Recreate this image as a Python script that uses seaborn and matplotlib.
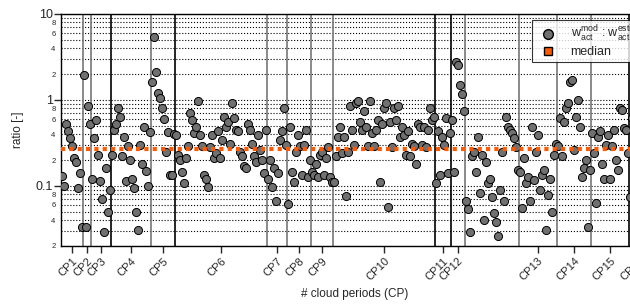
import numpy as np
import pandas as pd
import matplotlib
matplotlib.use('Agg')
import matplotlib.pyplot as plt
import seaborn as sns
from matplotlib.lines import Line2D
from matplotlib.ticker import FixedLocator, FixedFormatter

# ratio w_act^mod : w_act^estim for each cloud period
cp_names = ['CP1', 'CP2', 'CP3', 'CP4', 'CP5', 'CP6', 'CP7', 'CP8', 'CP9', 'CP10',
            'CP11', 'CP12', '', 'CP13', 'CP14', 'CP15', 'CP16']

cp1 = [0.13, 0.10, 0.52, 0.43, 0.36, 0.29, 0.21, 0.19, 0.095, 0.14, 0.033]
cp2 = [1.97, 0.033, 0.85, 0.52]
cp3 = [0.12, 0.36, 0.58, 0.23, 0.115, 0.07, 0.029, 0.16, 0.05, 0.09]
cp4 = [0.23, 0.45, 0.53, 0.8, 0.64, 0.22, 0.37, 0.115, 0.29, 0.2,
       0.12, 0.094, 0.05, 0.031, 0.3, 0.18, 0.49, 0.15, 0.1, 0.42]
cp5 = [1.63, 5.35, 2.13, 1.2, 1.05, 0.8, 0.6, 0.25, 0.42, 0.135, 0.135, 0.4]
cp6 = [0.39, 0.23, 0.2, 0.147, 0.107, 0.21, 0.29, 0.7, 0.585, 0.41,
       0.49, 0.98, 0.39, 0.29, 0.135, 0.12, 0.098, 0.28, 0.39, 0.21,
       0.24, 0.43, 0.21, 0.34, 0.63, 0.49, 0.56, 0.31, 0.91, 0.61,
       0.45, 0.43, 0.25, 0.22, 0.17, 0.16, 0.53, 0.45, 0.31, 0.22,
       0.19, 0.39, 0.26, 0.2, 0.14, 0.45]
cp7 = [0.12, 0.2, 0.098, 0.16, 0.066, 0.14, 0.34, 0.43, 0.8, 0.3]
cp8 = [0.062, 0.49, 0.147, 0.11, 0.25, 0.39, 0.29, 0.135, 0.3, 0.45, 0.128, 0.2]
cp9 = [0.147, 0.135, 0.18, 0.128, 0.23, 0.25, 0.135, 0.21, 0.28, 0.128, 0.112]
cp10 = [0.112, 0.22, 0.375, 0.49, 0.24, 0.375, 0.077, 0.25, 0.84, 0.45,
        0.3, 0.91, 0.96, 0.56, 0.45, 0.75, 0.49, 0.29, 0.98, 0.41,
        0.29, 0.45, 0.585, 0.11, 0.53, 0.8, 0.91, 0.057, 0.56, 0.28,
        0.8, 0.585, 0.85, 0.375, 0.49, 0.39, 0.23,
        0.43, 0.22, 0.31, 0.29, 0.18, 0.53, 0.49, 0.3, 0.49, 0.28,
        0.45, 0.8, 0.585, 0.64]
cp11 = [0.107, 0.43, 0.135, 0.375, 0.3, 0.61, 0.14, 0.41]
cp12 = [0.585, 0.147, 2.8, 2.55, 1.5, 1.17, 0.75]
no_cp = [0.066, 0.054, 0.029, 0.22, 0.25, 0.147, 0.375, 0.082, 0.23, 0.04,
         0.19, 0.107, 0.12, 0.075, 0.048, 0.038, 0.026, 0.09, 0.25, 0.066,
         0.64, 0.49, 0.45, 0.41, 0.36, 0.28, 0.153]
cp13 = [0.147, 0.055, 0.21, 0.107, 0.128, 0.066, 0.49, 0.117, 0.25, 0.39,
        0.09, 0.135, 0.153, 0.031, 0.078, 0.12, 0.05, 0.23, 0.31]
cp14 = [0.29, 0.61, 0.22, 0.56, 0.8, 0.91, 1.63, 1.71, 0.26, 0.64,
        1.0, 0.49, 0.128, 0.16, 0.2, 0.033, 0.153]
cp15 = [0.41, 0.24, 0.063, 0.375, 0.43, 0.18, 0.12, 0.3, 0.39, 0.12,
        0.29, 0.45, 0.2, 0.153, 0.8, 0.76, 0.47, 0.45, 0.24]
cp16 = [0.074, 0.61, 0.29, 0.35, 0.25, 0.4, 0.3, 0.2, 0.33, 0.27]

median_ratio = 0.27

# colour of the line closing each period
sep_colors = ['#777777', '#777777', 'black', '#777777', 'black', '#777777',
              '#777777', '#777777', '#777777', 'black', 'black', '#777777',
              '#777777', '#777777', '#777777', 'black']

periods = [cp1, cp2, cp3, cp4, cp5, cp6, cp7, cp8, cp9, cp10,
           cp11, cp12, no_cp, cp13, cp14, cp15, cp16]

sizes = np.array([len(p) for p in periods])
df = pd.DataFrame({'ratio': np.concatenate(periods),
                   'period': np.repeat(np.arange(len(periods)), sizes)})
df['sample'] = np.arange(len(df))
edges = np.cumsum(sizes) - 0.5
centers = edges - sizes / 2.0

sns.set_style('white')
plt.rcParams['font.family'] = ['Liberation Sans', 'DejaVu Sans']
plt.rcParams['mathtext.fontset'] = 'custom'
plt.rcParams['mathtext.rm'] = 'Liberation Sans'

fig = plt.figure(figsize=(6.3, 3.04), dpi=100)
# 2 px per sample, axes runs past the right edge like the original
ax = fig.add_axes([61 / 630, 58 / 304, len(df) * 2 / 630, 232 / 304])

sns.scatterplot(data=df, x='sample', y='ratio', color='#707070', edgecolor='black',
                linewidth=0.7, s=34, ax=ax, zorder=3, legend=False)

ax.axhline(median_ratio, color='#ff5a00', lw=3, ls=(0, (1, 1)),
           dash_capstyle='butt', zorder=4)

for e, c in zip(edges[:-1], sep_colors):
    ax.axvline(e, color=c, lw=1.2, zorder=2)

ax.set_yscale('log')
ax.set_ylim(0.02, 10)
ax.set_xlim(-0.5, len(df) - 0.5)

# y ticks: decades labelled big, 2/4/6/8 labelled small
ax.yaxis.set_major_locator(FixedLocator([0.1, 1, 10]))
ax.yaxis.set_major_formatter(FixedFormatter(['0.1', '1', '10']))
minor = [m * d for d in [0.01, 0.1, 1] for m in range(2, 10)]
minor_lab = [str(m) if m % 2 == 0 else '' for d in [0.01, 0.1, 1] for m in range(2, 10)]
ax.yaxis.set_minor_locator(FixedLocator(minor))
ax.yaxis.set_minor_formatter(FixedFormatter(minor_lab))
ax.tick_params(axis='y', which='major', labelsize=9, length=5, width=1, direction='out', pad=1)
ax.tick_params(axis='y', which='minor', labelsize=5.5, length=3, width=0.8, direction='out', pad=1)
ax.yaxis.set_tick_params(left=True)

ax.grid(which='both', axis='y', color='black', linestyle=':', linewidth=0.8, zorder=1)
ax.grid(which='both', axis='x', visible=False)
ax.set_axisbelow(True)

labelled = [i for i, n in enumerate(cp_names) if n]
ax.set_xticks(centers[labelled])
ax.set_xticklabels([cp_names[i] for i in labelled], rotation=45, ha='right',
                   rotation_mode='anchor', fontsize=8)
ax.tick_params(axis='x', which='major', length=5, width=1, direction='out', bottom=True, pad=2)
ax.tick_params(axis='x', which='minor', bottom=False)

for s in ['left', 'bottom', 'top']:
    ax.spines[s].set_color('black')
    ax.spines[s].set_linewidth(1)
ax.spines['right'].set_visible(False)

ax.set_xlabel('# cloud periods (CP)', fontsize=8.5, labelpad=4)
ax.set_ylabel('ratio [-]', fontsize=8.5, labelpad=8)

handles = [Line2D([], [], marker='o', ls='none', markerfacecolor='#707070',
                  markeredgecolor='black', markersize=7),
           Line2D([], [], marker='s', ls='none', markerfacecolor='#ff5a00',
                  markeredgecolor='black', markersize=6)]
labels = [r'$\mathrm{w_{act}^{mod}}$ : $\mathrm{w_{act}^{estim}}$', 'median']
leg = ax.legend(handles, labels, loc='upper right', fontsize=9, frameon=True,
                fancybox=False, edgecolor='black', borderaxespad=0.5,
                handletextpad=0.8, labelspacing=0.15, borderpad=0.3)
leg.get_frame().set_linewidth(0.8)

fig.savefig('out.png', dpi=100)
